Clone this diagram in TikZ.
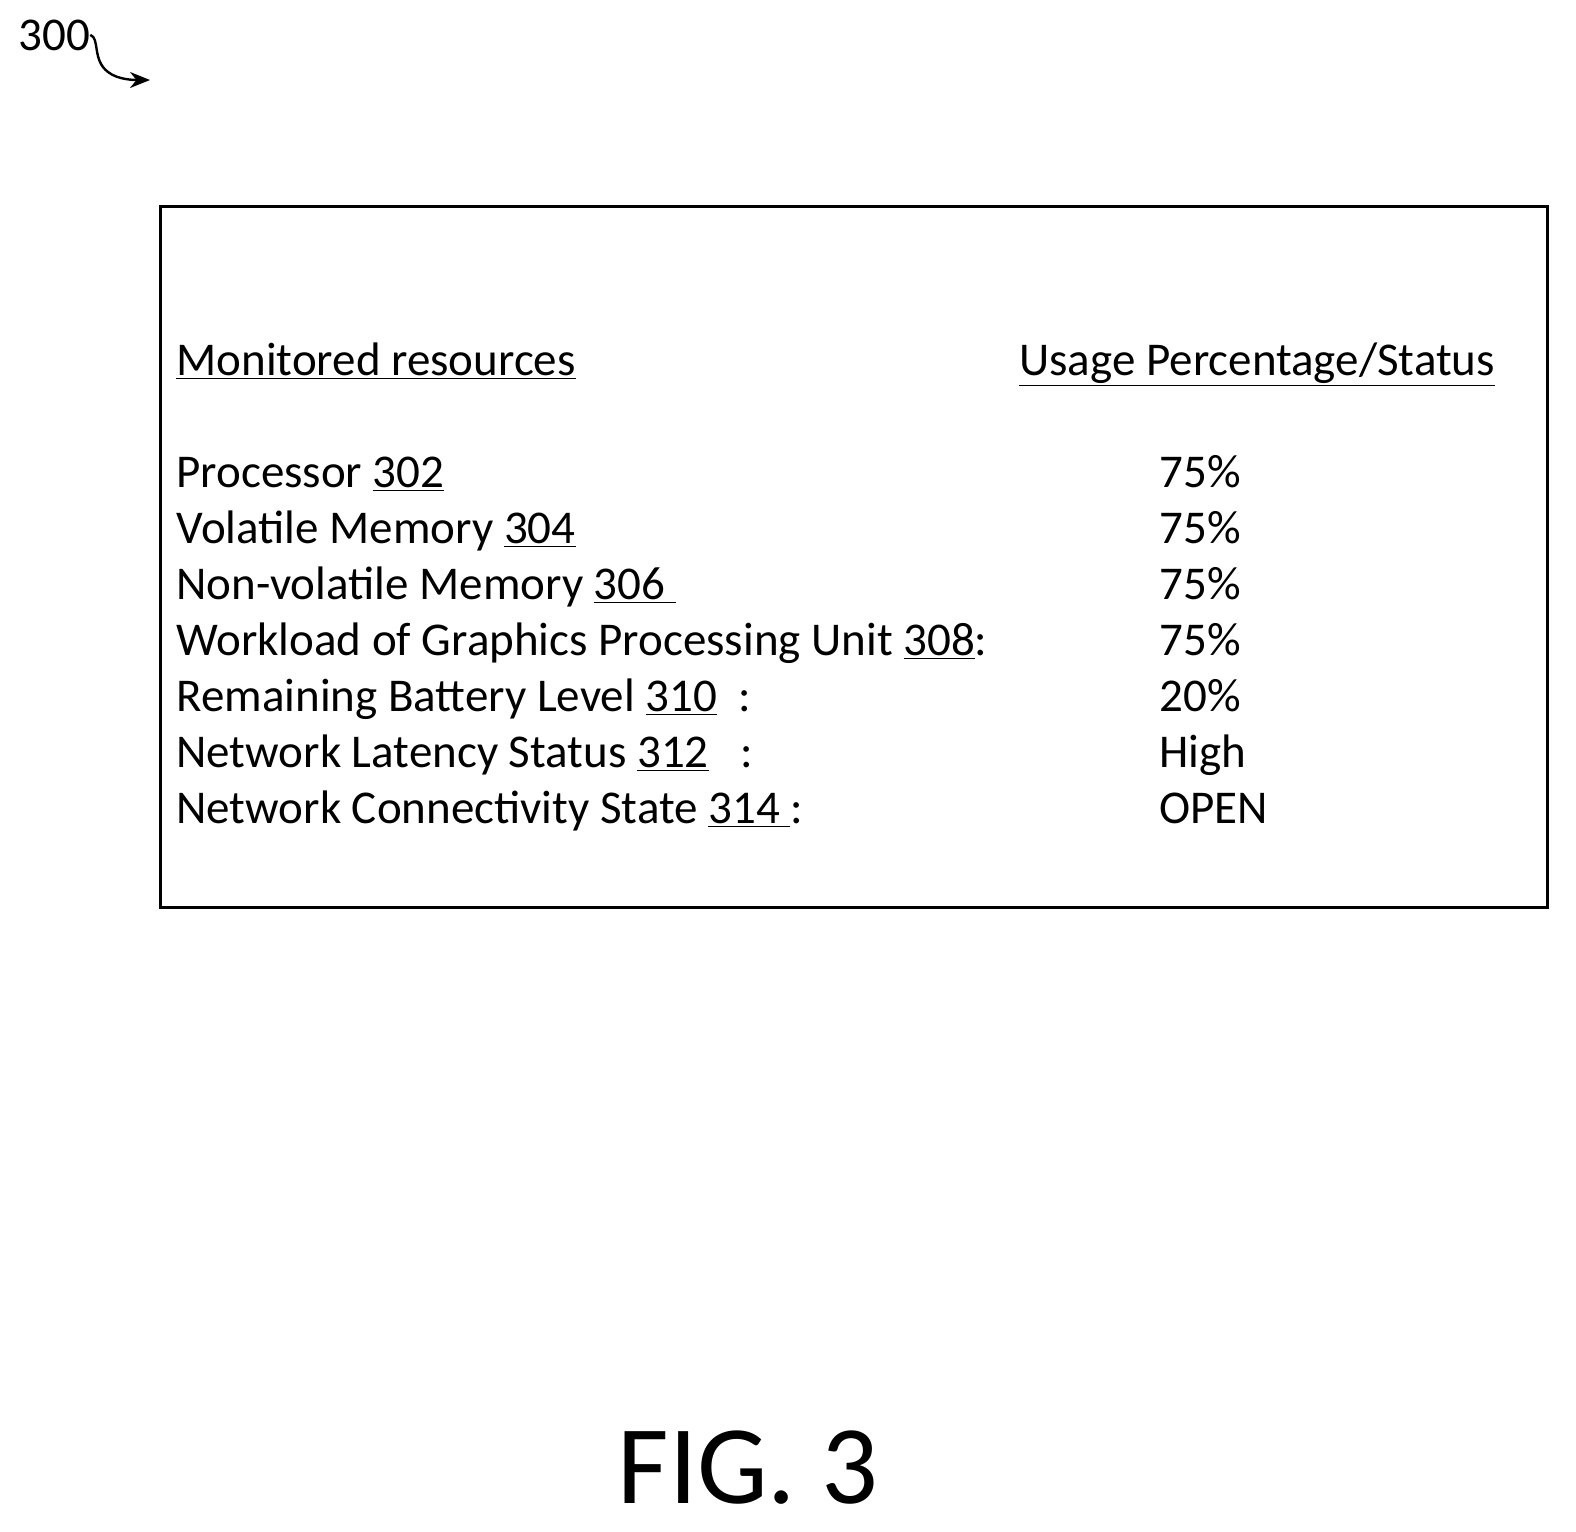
\documentclass[tikz,border=0pt]{standalone}
\usepackage{fontspec}
\setmainfont{Carlito}
\usetikzlibrary{arrows.meta}
\begin{document}
\begin{tikzpicture}[x=0.5pt,y=-0.5pt,
  txt/.style={anchor=base west,inner sep=0pt,font=\fontsize{23.5pt}{28pt}\selectfont}]
\useasboundingbox (0,0) rectangle (1576,1532);
\node[txt] (n300) at (18,50) {300};
\coordinate (a300) at (150,80);
\draw[line width=1.2pt,-{Stealth[length=10pt,width=8pt]}] (n300.east) .. controls (100,38) and (92,60) .. (108,72) .. controls (118,80) and (135,80) .. (a300);
\node[draw,line width=1.5pt,minimum width=693.5pt,minimum height=350.5pt,anchor=north west,inner sep=0pt] (box) at (159,205) {};
\node[txt] (h1) at (176,375) {\underline{Monitored resources}};
\node[txt] (h2) at (1019,375) {\underline{Usage Percentage/Status}};
\node[txt] (r1) at (176,487) {Processor \underline{302}};
\node[txt] (r2) at (176,543) {Volatile Memory \underline{304}};
\node[txt] (r3) at (176,599) {Non-volatile Memory \underline{306\ }};
\node[txt] (r4) at (176,655) {Workload of Graphics Processing Unit \underline{308}:};
\node[txt] (r5) at (176,711) {Remaining Battery Level \underline{310}\ \ :};
\node[txt] (r6) at (176,767) {Network Latency Status \underline{312}\ \ \ :};
\node[txt] (r7) at (176,823) {Network Connectivity State \underline{314\ }:};
\node[txt] (v1) at (1159,487) {75\%};
\node[txt] (v2) at (1159,543) {75\%};
\node[txt] (v3) at (1159,599) {75\%};
\node[txt] (v4) at (1159,655) {75\%};
\node[txt] (v5) at (1159,711) {20\%};
\node[txt] (v6) at (1159,767) {High};
\node[txt] (v7) at (1159,823) {OPEN};
\node[anchor=base,inner sep=0pt,font=\fontsize{56pt}{60pt}\selectfont] (fig) at (748,1503) {FIG. 3};
\end{tikzpicture}
\end{document}
